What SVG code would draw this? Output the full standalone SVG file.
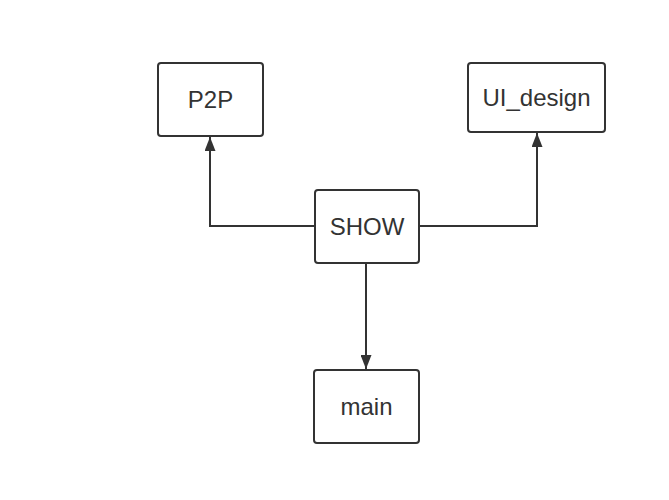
<svg xmlns="http://www.w3.org/2000/svg" width="669" height="500" viewBox="0 0 669 500">
<style>
.box{fill:#fff;stroke:#333;stroke-width:2}
.lbl{font-family:"Liberation Sans",Arial,sans-serif;font-size:24px;fill:#333;text-anchor:middle;dominant-baseline:central}
.edge{fill:none;stroke:#333;stroke-width:2}
</style>
<defs>
<marker id="arr" markerWidth="14" markerHeight="11" refX="14" refY="5.5" orient="auto" markerUnits="userSpaceOnUse" viewBox="0 0 14 11">
<path d="M0,0 L14,5.5 L0,11 Z" fill="#333"/>
</marker>
</defs>
<rect width="669" height="500" fill="#fff"/>
<g id="connectors">
<path class="edge" d="M315,226 H210 V137" marker-end="url(#arr)"/>
<path class="edge" d="M419,226 H537 V133" marker-end="url(#arr)"/>
<path class="edge" d="M366,264 V369" marker-end="url(#arr)"/>
</g>
<g id="P2P">
<rect class="box" x="158" y="63" width="105" height="73" rx="3"/>
<text class="lbl" x="210.5" y="99.5">P2P</text>
</g>
<g id="UI_design">
<rect class="box" x="468" y="63" width="137" height="69" rx="3"/>
<text class="lbl" x="536.5" y="97.5">UI_design</text>
</g>
<g id="SHOW">
<rect class="box" x="315" y="190" width="104" height="73" rx="3"/>
<text class="lbl" x="367" y="226.5">SHOW</text>
</g>
<g id="main">
<rect class="box" x="314" y="370" width="105" height="73" rx="3"/>
<text class="lbl" x="366.5" y="406.5">main</text>
</g>
</svg>
